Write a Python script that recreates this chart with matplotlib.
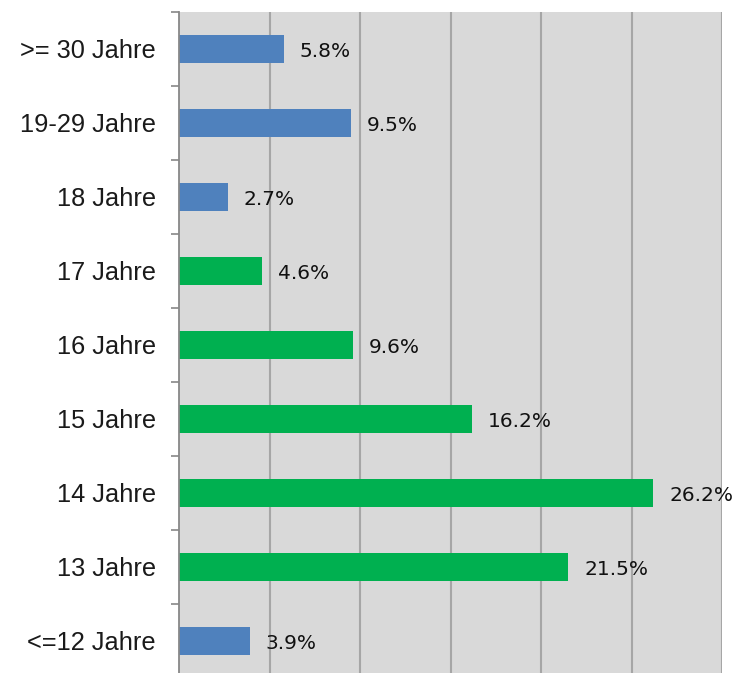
import matplotlib.pyplot as plt
import numpy as np

categories = ['>= 30 Jahre', '19-29 Jahre', '18 Jahre', '17 Jahre', '16 Jahre',
              '15 Jahre', '14 Jahre', '13 Jahre', '<=12 Jahre']
values = [5.8, 9.5, 2.7, 4.6, 9.6, 16.2, 26.2, 21.5, 3.9]
groups = ['alt', 'alt', 'alt', 'jung', 'jung', 'jung', 'jung', 'jung', 'alt']
group_colors = {'alt': '#4F81BD', 'jung': '#00B050'}

fig = plt.figure(figsize=(7.4, 6.73), dpi=100)
ax = fig.add_axes([179/740, 1 - 678/673, (722 - 179)/740, (678 - 12)/673])
ax.set_facecolor('#D9D9D9')

y = np.arange(len(categories))
colors = [group_colors[g] for g in groups]
bars = ax.barh(y, values, height=0.38, color=colors)

for b, v in zip(bars, values):
    ax.annotate('{:.1f}%'.format(v), (b.get_width(), b.get_y() + b.get_height()/2),
                xytext=(11.5, -1.5), textcoords='offset points', va='center', ha='left',
                fontsize=14.5, family='DejaVu Sans', color='#111111', annotation_clip=False)

ax.set_xlim(0, 30)
ax.set_ylim(len(categories) - 0.5, -0.5)
ax.set_xticks([5, 10, 15, 20, 25, 30])
ax.xaxis.grid(True, color='#A6A6A6', linewidth=1.5)
ax.set_axisbelow(True)
ax.tick_params(axis='x', length=0, labelbottom=False)

ax.set_yticks(y)
ax.set_yticklabels(categories, family='Liberation Sans', fontsize=18.3, color='#1a1a1a')
ax.tick_params(axis='y', which='major', length=0, pad=16.5)
ax.set_yticks(np.arange(-0.5, len(categories), 1), minor=True)
ax.tick_params(axis='y', which='minor', length=6, width=1.2, color='#888888')

for s in ['top', 'right', 'bottom']:
    ax.spines[s].set_visible(False)
ax.spines['left'].set_color('#888888')
ax.spines['left'].set_linewidth(1.3)

fig.savefig('out.png', dpi=100)
